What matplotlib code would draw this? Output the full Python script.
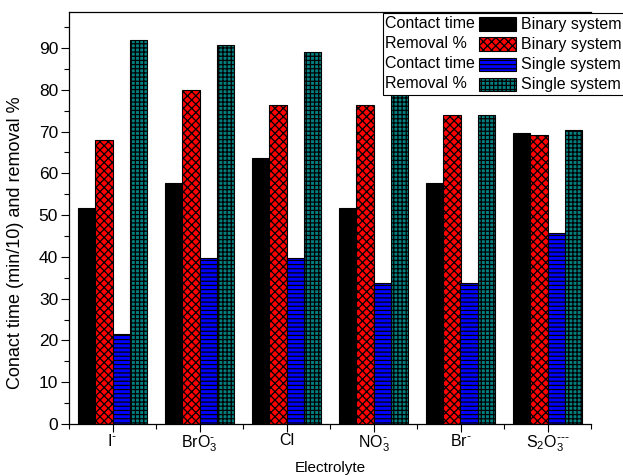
import matplotlib
matplotlib.use("Agg")
import matplotlib.pyplot as plt
from matplotlib.patches import Rectangle
from matplotlib.ticker import FixedLocator
import numpy as np

plt.rcParams['font.family'] = ['Liberation Sans', 'DejaVu Sans']
plt.rcParams['mathtext.default'] = 'regular'
plt.rcParams['hatch.linewidth'] = 0.9

categories = [r'I$^{\text{-}}$', r'BrO$_3^{\text{-}}$', 'Cl', r'NO$_3^{\text{-}}$',
              r'Br$^{\text{-}}$', r'S$_2$O$_3^{\text{---}}$']
contact_binary = [51.7, 57.7, 63.7, 51.7, 57.7, 69.6]
removal_binary = [68.0, 80.0, 76.4, 76.4, 74.0, 69.1]
contact_single = [21.5, 39.7, 39.7, 33.7, 33.7, 45.7]
removal_single = [91.8, 90.6, 89.0, 88.0, 74.0, 70.4]

series = [
    ("Contact time", "Binary system", contact_binary, 'black', None),
    ("Removal %", "Binary system", removal_binary, 'red', 'xxxx'),
    ("Contact time", "Single system", contact_single, '#0000ff', '----'),
    ("Removal %", "Single system", removal_single, '#008080', '++++'),
]

W, H = 623, 475
fig = plt.figure(figsize=(W/100, H/100), dpi=100)
left, right, bottom, top = 69, 591, 424, 12
ax = fig.add_axes([left/W, 1-bottom/H, (right-left)/W, (bottom-top)/H])

x = np.arange(len(categories))
bw = 0.2
offsets = [-0.3, -0.1, 0.1, 0.3]
for (a, b, vals, col, hatch), off in zip(series, offsets):
    ax.bar(x+off, vals, bw, color=col, edgecolor='black', linewidth=0.8,
           hatch=hatch, zorder=2)

ax.set_xlim(-0.5, 5.5)
ax.set_ylim(0, (bottom-top)/4.178)
ax.set_xticks(x)
ax.set_xticklabels(categories)
ax.xaxis.set_minor_locator(FixedLocator(np.arange(-0.5, 5.6, 1.0)))
ax.yaxis.set_major_locator(FixedLocator(np.arange(0, 91, 10)))
ax.yaxis.set_minor_locator(FixedLocator(np.arange(5, 96, 10)))
ax.tick_params(axis='both', which='major', direction='out', length=5.8, width=0.8)
ax.tick_params(axis='both', which='minor', direction='out', length=3.6, width=0.8)
ax.tick_params(axis='x', which='major', labelsize=11.5, pad=1)
ax.tick_params(axis='y', which='major', labelsize=12.5, pad=2)
for s in ax.spines.values():
    s.set_linewidth(0.9)
ax.spines['right'].set_visible(False)
ax.set_xlabel('Electrolyte', fontsize=11, labelpad=5)
ax.set_ylabel('Conact time (min/10) and removal %', fontsize=13)
ax.yaxis.set_label_coords(-(left-24)/(right-left), (bottom-243)/(bottom-top))

# Origin-style legend drawn in figure pixel coordinates
def fx(px): return px/W
def fy(py): return 1-py/H

box = Rectangle((fx(383), fy(95)), fx(640)-fx(383), fy(13)-fy(95),
                transform=fig.transFigure, facecolor='white', edgecolor='black',
                linewidth=0.8, zorder=5)
fig.add_artist(box)
rows = [24, 44, 64, 84]
for (a, b, vals, col, hatch), ry in zip(series, rows):
    fig.text(fx(385), fy(ry), a, fontsize=11.5, va='center', ha='left', zorder=6)
    p = Rectangle((fx(479), fy(ry+6.5)), fx(516)-fx(479), fy(ry-6.5)-fy(ry+6.5),
                  transform=fig.transFigure, facecolor=col, edgecolor='black',
                  linewidth=0.8, hatch=hatch, zorder=6)
    fig.add_artist(p)
    fig.text(fx(521), fy(ry), b, fontsize=11.5, va='center', ha='left', zorder=6)

fig.savefig('out.png', dpi=100)
